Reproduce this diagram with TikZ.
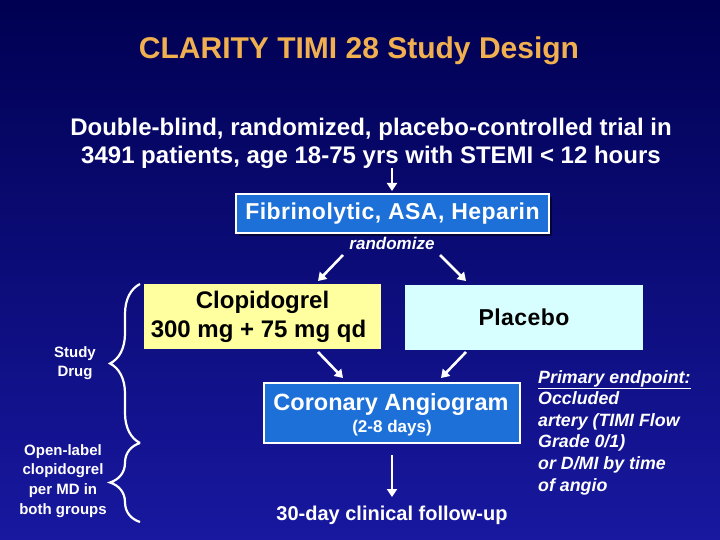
\documentclass[tikz,border=0pt]{standalone}
\usepackage{fontspec}
\setmainfont{Liberation Sans}
\usetikzlibrary{arrows.meta,decorations.pathreplacing}
\definecolor{bgtop}{RGB}{0,0,82}
\definecolor{bgbot}{RGB}{24,24,160}
\definecolor{titleor}{RGB}{240,176,80}
\definecolor{boxblue}{RGB}{28,112,216}
\definecolor{boxyel}{RGB}{255,255,160}
\definecolor{boxcyan}{RGB}{216,255,255}
\tikzset{
  wtxt/.style={text=white,font=\bfseries,inner sep=0pt,align=center},
  bluebox/.style={fill=boxblue,draw=white,line width=1.5pt,text=white,inner sep=0pt},
  arr/.style={draw=white,line width=2.6pt,-{Triangle[width=10pt,length=8pt]}},
  brc/.style={draw=white,line width=2.2pt,decorate,decoration={brace,amplitude=30pt}},
}
\begin{document}
\begin{tikzpicture}[x=1pt,y=-1pt]
\shade[top color=bgtop,bottom color=bgbot] (0,0) rectangle (720,540);
\useasboundingbox (0,0) rectangle (720,540);
% title
\node[text=titleor,font=\bfseries\fontsize{30}{32}\selectfont,inner sep=0pt] (title) at (359,51) {CLARITY TIMI 28 Study Design};
% intro
\node[wtxt,font=\bfseries\fontsize{24}{28}\selectfont] (l1) at (371,129) {Double-blind, randomized, placebo-controlled trial in};
\node[wtxt,font=\bfseries\fontsize{24}{28}\selectfont] (l2) at (371,157) {3491 patients, age 18-75 yrs with STEMI < 12 hours};
% fibrinolytic box
\fill[black,opacity=0.5] (239,197) rectangle (552,236);
\node[bluebox,minimum width=313pt,minimum height=39pt,font=\bfseries\fontsize{23}{28}\selectfont] (fib) at (392.5,213.5) {\addfontfeature{LetterSpace=2}Fibrinolytic, ASA, Heparin};
\node[text=white,font=\bfseries\itshape\fontsize{17}{20}\selectfont,inner sep=0pt] (rand) at (392,243) {randomize};
% treatment boxes
\node[fill=boxyel,minimum width=237pt,minimum height=65pt,inner sep=0pt,align=center,font=\bfseries\fontsize{24}{29}\selectfont] (clop) at (262.5,316.5) {Clopidogrel\\\hspace*{-8pt}300 mg + 75 mg qd};
\node[fill=boxcyan,minimum width=238pt,minimum height=65pt,inner sep=0pt,font=\bfseries\fontsize{23}{28}\selectfont] (plac) at (524,317.5) {\addfontfeature{LetterSpace=2}Placebo};
% coronary angiogram
\node[bluebox,minimum width=256pt,minimum height=60pt] (cor) at (392,413) {};
\node[text=white,font=\bfseries\fontsize{23.5}{28}\selectfont,inner sep=0pt] (cort) at (391,404) {Coronary Angiogram};
\node[wtxt,font=\bfseries\fontsize{17}{20}\selectfont] (days) at (392,428) {(2-8 days)};
\node[wtxt,font=\bfseries\fontsize{20}{24}\selectfont] (fu) at (392,515) {30-day clinical follow-up};
% arrow coordinates
\coordinate (a0s) at (392,168); \coordinate (a0e) at (392,191);
\coordinate (a1s) at (343,255); \coordinate (a1e) at (318,281);
\coordinate (a2s) at (440,255); \coordinate (a2e) at (466,281);
\coordinate (a3s) at (318,352); \coordinate (a3e) at (343,378);
\coordinate (a4s) at (466,352); \coordinate (a4e) at (441,378);
\coordinate (a5s) at (392,455); \coordinate (a5e) at (392,497);
\draw[arr] (a0s) -- (a0e);
\draw[arr] (a1s) -- (a1e);
\draw[arr] (a2s) -- (a2e);
\draw[arr] (a3s) -- (a3e);
\draw[arr] (a4s) -- (a4e);
\draw[arr] (a5s) -- (a5e);
% braces
\coordinate (b1t) at (140,284); \coordinate (b1b) at (140,443);
\coordinate (b2t) at (140,443); \coordinate (b2b) at (140,522);
\draw[brc] (b1b) -- (b1t);
\draw[brc] (b2b) -- (b2t);
\node[wtxt,font=\bfseries\fontsize{15}{19.5}\selectfont] (sd) at (75,363) {Study\\Drug};
\node[wtxt,font=\bfseries\fontsize{15}{19.7}\selectfont] (ol) at (63,481) {Open-label\\clopidogrel\\per MD in\\both groups};
% primary endpoint
\node[text=white,font=\bfseries\itshape\fontsize{17.8}{21.6}\selectfont,inner sep=0pt,align=left,anchor=north west] (pe) at (538,370) {\underline{Primary endpoint:}\\Occluded\\artery (TIMI Flow\\Grade 0/1)\\or D/MI by time\\of angio};
\end{tikzpicture}
\end{document}
